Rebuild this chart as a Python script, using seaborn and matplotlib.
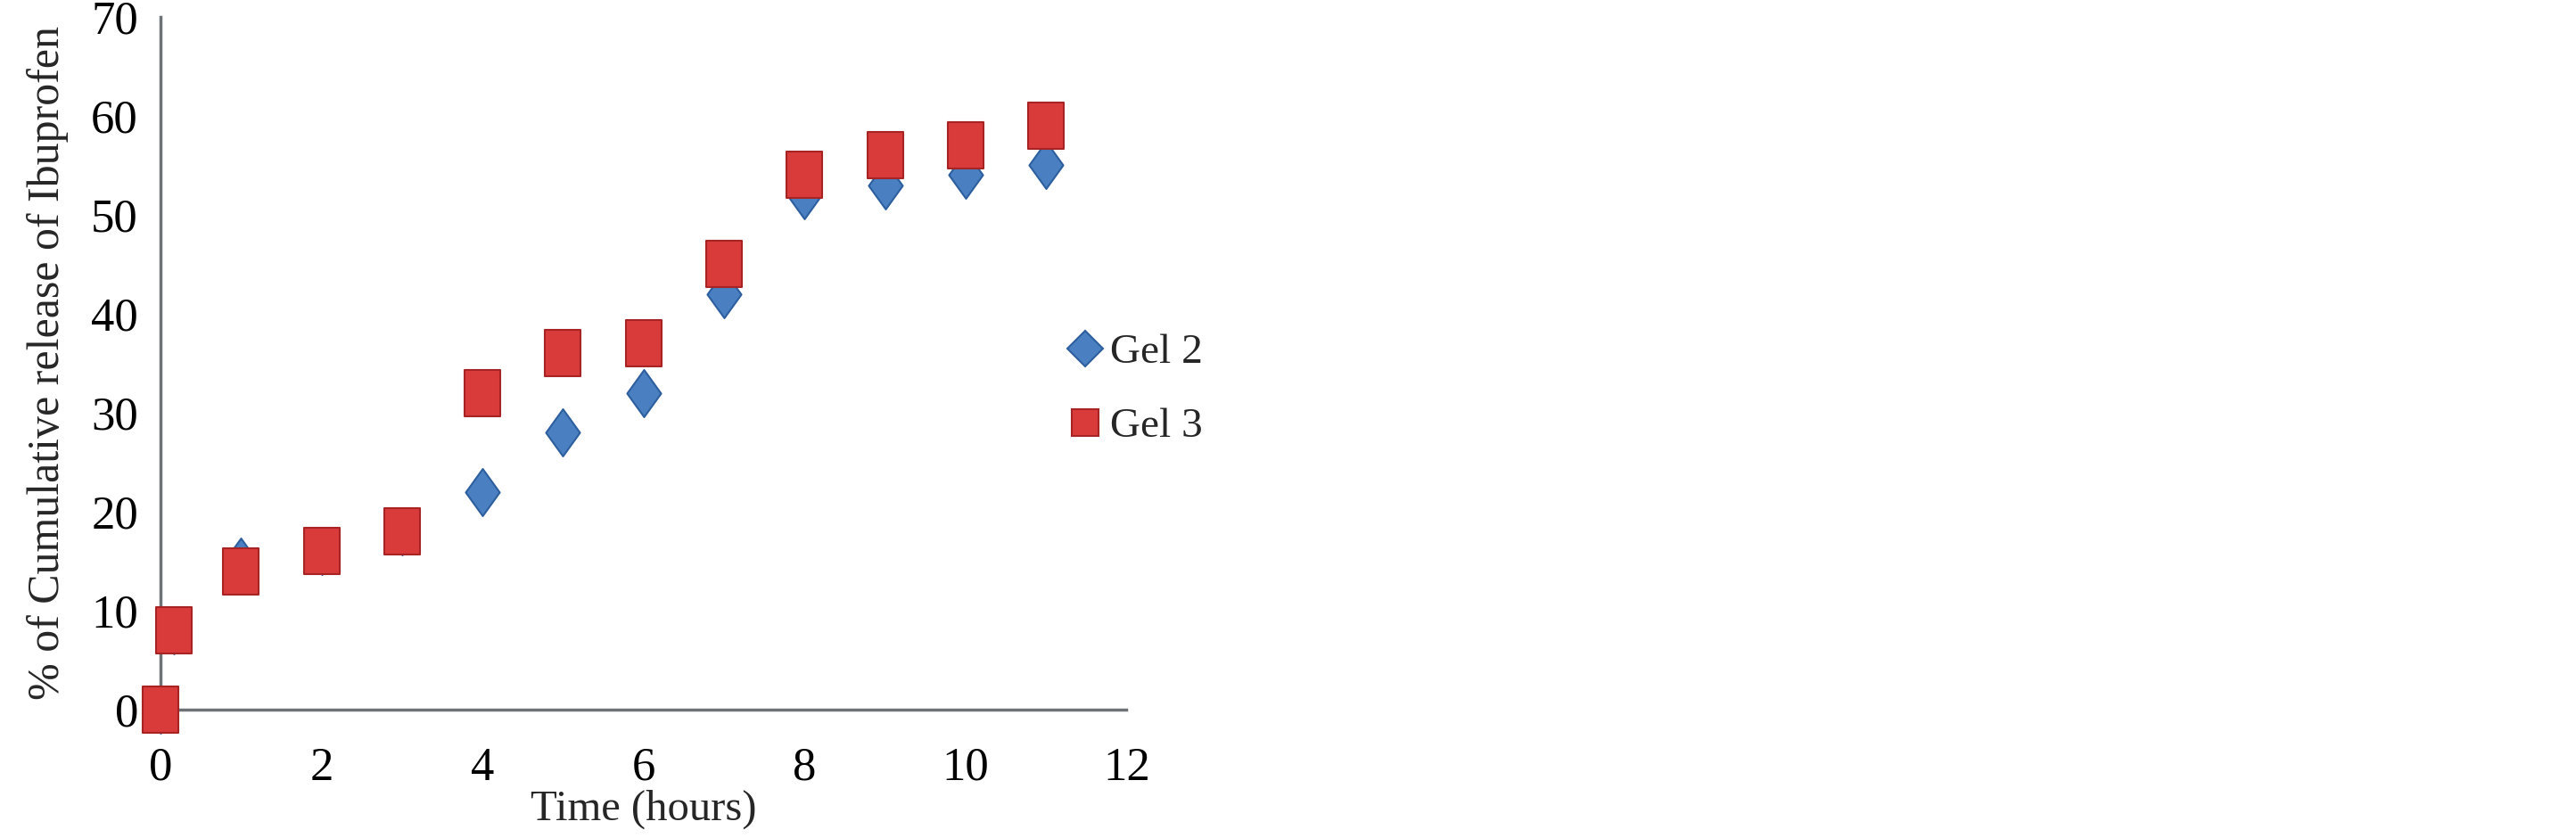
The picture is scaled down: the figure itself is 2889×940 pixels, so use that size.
import numpy as np
import pandas as pd
import matplotlib
matplotlib.use("Agg")
import matplotlib.pyplot as plt
import seaborn as sns
from matplotlib.path import Path
from matplotlib.lines import Line2D

# Datos
time_gel2 = [0, 0.17, 1, 2, 3, 4, 5, 6, 7, 8, 9, 10, 11]
release_gel2 = [0, 8, 15, 16, 18, 22, 28, 32, 42, 52, 53, 54, 55]
time_gel3 = [0, 0.17, 1, 2, 3, 4, 5, 6, 7, 8, 9, 10, 11]
release_gel3 = [0, 8, 14, 16, 18, 32, 36, 37, 45, 54, 56, 57, 59]

x_ticks = [0, 2, 4, 6, 8, 10, 12]
y_ticks = [0, 10, 20, 30, 40, 50, 60, 70]

df = pd.concat([
    pd.DataFrame({"time": time_gel2, "release": release_gel2, "gel": "Gel 2"}),
    pd.DataFrame({"time": time_gel3, "release": release_gel3, "gel": "Gel 3"}),
])

# Marcadores algo alargados en vertical, como en la figura original
diamond = Path([(0, -0.5), (0.36, 0), (0, 0.5), (-0.36, 0), (0, -0.5)],
               [Path.MOVETO, Path.LINETO, Path.LINETO, Path.LINETO, Path.CLOSEPOLY])
rect = Path([(-0.37, -0.5), (0.37, -0.5), (0.37, 0.5), (-0.37, 0.5), (-0.37, -0.5)],
            [Path.MOVETO, Path.LINETO, Path.LINETO, Path.LINETO, Path.CLOSEPOLY])

blue = "#4a7fc1"
red = "#d93b3b"

sns.set_style("white")
plt.rcParams["font.family"] = ["Liberation Serif", "DejaVu Serif"]

fig = plt.figure(figsize=(28.89, 9.4), dpi=100)
ax = fig.add_axes([0.0623, 0.153, 0.375, 0.827])

sns.scatterplot(data=df[df.gel == "Gel 2"], x="time", y="release", ax=ax,
                marker=diamond, s=1450, color=blue, edgecolor="#2d5f9e",
                linewidth=1.5, legend=False, zorder=3, clip_on=False)
sns.scatterplot(data=df[df.gel == "Gel 3"], x="time", y="release", ax=ax,
                marker=rect, s=1450, color=red, edgecolor="#a82424",
                linewidth=1.5, legend=False, zorder=4, clip_on=False)

ax.set_xlim(0, 12)
ax.set_ylim(0, 70)
ax.set_xticks(x_ticks)
ax.set_yticks(y_ticks)
ax.tick_params(axis="both", labelsize=38, colors="#000000", length=10, width=2.5,
               direction="out")
ax.tick_params(axis="both", color="#6e7378")
ax.tick_params(axis="x", pad=20)
ax.tick_params(axis="y", pad=8)

for side in ["top", "right"]:
    ax.spines[side].set_visible(False)
for side in ["left", "bottom"]:
    ax.spines[side].set_color("#6e7378")
    ax.spines[side].set_linewidth(2.5)

ax.set_xlabel("Time (hours)", fontsize=35, labelpad=0)
ax.set_ylabel("% of Cumulative release of Ibuprofen", fontsize=36, labelpad=18)

handles = [
    Line2D([], [], linestyle="none", marker="D", markersize=20, color=blue,
           markeredgecolor="#2d5f9e", markeredgewidth=1.5, label="Gel 2"),
    Line2D([], [], linestyle="none", marker="s", markersize=21, color=red,
           markeredgecolor="#a82424", markeredgewidth=1.5, label="Gel 3"),
]
fig.legend(handles=handles, loc="center left", bbox_to_anchor=(0.4, 0.535),
           frameon=False, fontsize=34, handlelength=0.8, handletextpad=0.2,
           labelspacing=0.85)

fig.savefig("out.png", dpi=100)
